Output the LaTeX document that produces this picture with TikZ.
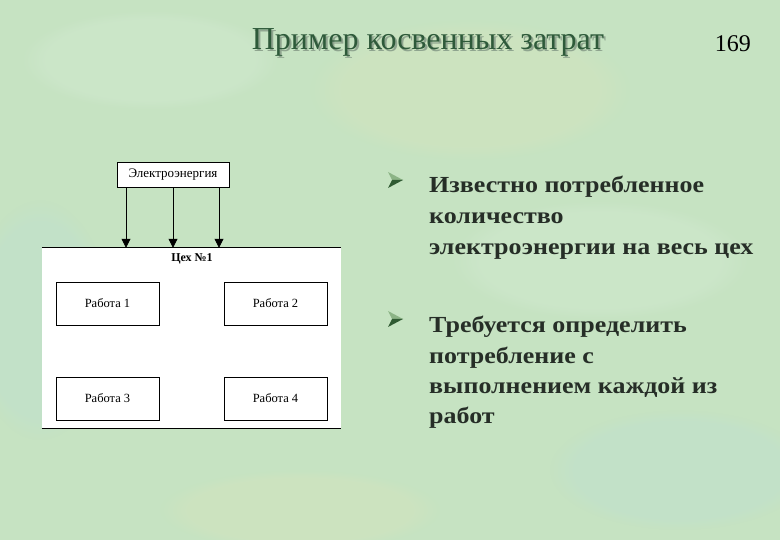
\documentclass[tikz,border=0pt]{standalone}
\usepackage{fontspec}
\setmainfont{Liberation Serif}
\newfontfamily\bulletfont[FakeStretch=1.13]{Liberation Serif}
\usetikzlibrary{arrows.meta,fadings}
\definecolor{bg}{HTML}{C6E3C2}
\definecolor{bgyellow}{HTML}{D9E4BC}
\definecolor{bgblue}{HTML}{BCDFD6}
\definecolor{bgpale}{HTML}{D6ECD6}
\definecolor{txt}{HTML}{262E27}
\definecolor{titlecol}{HTML}{2E5A3A}
\definecolor{titleshadow}{HTML}{8FA58F}
\definecolor{bulletlight}{HTML}{8CB486}
\definecolor{bulletdark}{HTML}{2F5A32}
\begin{document}
\begin{tikzpicture}[x=1pt,y=-1pt,
  box/.style={draw=black, fill=white, line width=0.8pt, inner sep=0pt,
    minimum width=103pt, minimum height=43pt, font=\fontsize{12.5}{14}\selectfont},
  feed/.style={-{Triangle[length=9pt,width=9pt]}, line width=0.8pt},
  line/.style={anchor=base west, inner sep=0pt, text=txt,
    font=\bulletfont\bfseries\fontsize{23}{26}\selectfont},
  blob/.style={path fading=circle with fuzzy edge 20 percent, fill opacity=0.35}
]
\useasboundingbox (0,0) rectangle (780,540);
% background
\fill[bg] (0,0) rectangle (780,540);
\fill[bgyellow, blob] (470,90) ellipse (160pt and 70pt);
\fill[bgpale, blob] (150,60) ellipse (130pt and 50pt);
\fill[bgblue, blob] (680,470) ellipse (130pt and 60pt);
\fill[bgblue, blob] (40,320) ellipse (70pt and 120pt);
\fill[bgyellow, blob] (300,510) ellipse (140pt and 40pt);
\fill[bgpale, blob] (600,260) ellipse (150pt and 60pt);

% title
\node[anchor=base, inner sep=0pt, text=titleshadow, font=\fontsize{32}{36}\selectfont] at (430,51.5) {Пример косвенных затрат};
\node[anchor=base, inner sep=0pt, text=titlecol, font=\fontsize{32}{36}\selectfont] (title) at (428,49.5) {Пример косвенных затрат};
\node[anchor=base east, inner sep=0pt, text=black, font=\fontsize{24}{28}\selectfont] (num) at (751,52) {169};

% diagram
\node[draw=none, fill=white, minimum width=299pt, minimum height=180pt, inner sep=0pt] (shop) at (191.5,338) {};
\draw[line width=0.8pt] (shop.north west) -- (shop.north east);
\draw[line width=0.8pt] (shop.south west) -- (shop.south east);
\node[inner sep=0pt, font=\bfseries\fontsize{12}{14}\selectfont] (shoplabel) at (192,259) {Цех №1};
\node[box, minimum width=112pt, minimum height=25pt, font=\fontsize{13}{14}\selectfont] (elec) at (173,174.5) {Электроэнергия};
\node[box] (w1) at (107.5,303.5) {Работа 1};
\node[box] (w2) at (275.5,303.5) {Работа 2};
\node[box] (w3) at (107.5,398.5) {Работа 3};
\node[box] (w4) at (275.5,398.5) {Работа 4};
\coordinate (a1) at (126,0);
\coordinate (a2) at (173,0);
\coordinate (a3) at (219,0);
\draw[feed] (elec.south -| a1) -- (shop.north -| a1);
\draw[feed] (elec.south -| a2) -- (shop.north -| a2);
\draw[feed] (elec.south -| a3) -- (shop.north -| a3);

% bullets
\foreach \y in {180,319} {
  \fill[bulletlight] (388,\y-8) -- (403,\y) -- (392,\y) -- cycle;
  \fill[bulletdark] (388,\y+8) -- (403,\y) -- (392,\y) -- cycle;
}
\node[line] (l1) at (429,193) {Известно потребленное};
\node[line] (l2) at (429,224) {количество};
\node[line] (l3) at (429,255) {электроэнергии на весь цех};
\node[line] (l4) at (429,333) {Требуется определить};
\node[line] (l5) at (429,363) {потребление с};
\node[line] (l6) at (429,394) {выполнением каждой из};
\node[line] (l7) at (429,424) {работ};
\end{tikzpicture}
\end{document}
